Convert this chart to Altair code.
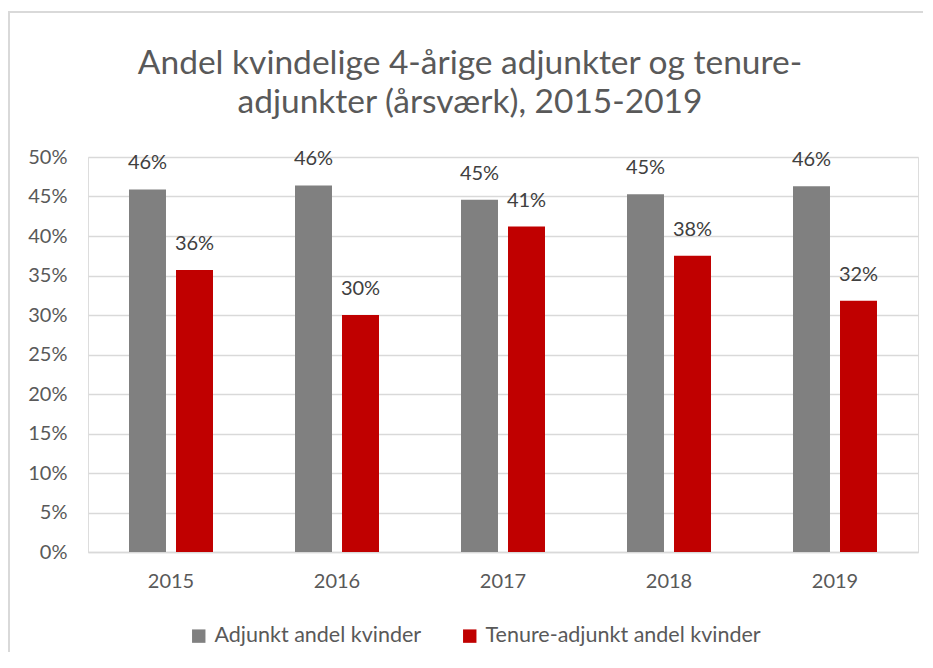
import altair as alt
import pandas as pd

years = ["2015", "2016", "2017", "2018", "2019"]
series = ["Adjunkt andel kvinder", "Tenure-adjunkt andel kvinder"]
adjunkt = [0.459, 0.464, 0.446, 0.453, 0.463]
tenure = [0.357, 0.300, 0.412, 0.375, 0.318]
colors = ["#808080", "#C00000"]
title_lines = ["Andel kvindelige 4-årige adjunkter og tenure-", "adjunkter (årsværk), 2015-2019"]

rows = []
for i, y in enumerate(years):
    rows.append({"year": y, "series": series[0], "value": adjunkt[i]})
    rows.append({"year": y, "series": series[1], "value": tenure[i]})
df = pd.DataFrame(rows)

FONT = "Lato"
TXT = "#595959"

x = alt.X("year:N", title=None,
          scale=alt.Scale(paddingInner=0.494, paddingOuter=0.247),
          axis=alt.Axis(labelAngle=0, labelFontSize=20, labelColor=TXT, labelFont=FONT,
                        ticks=False, domainColor="#d9d9d9", domainWidth=1.5, labelPadding=19))
xo = alt.XOffset("series:N", sort=series,
                 scale=alt.Scale(paddingInner=0.213, paddingOuter=0))
y = alt.Y("value:Q", title=None,
          scale=alt.Scale(domain=[0, 0.5], nice=False),
          axis=alt.Axis(format=".0%", values=[i / 100 for i in range(0, 51, 5)],
                        labelFontSize=20, labelColor=TXT, labelFont=FONT, ticks=False,
                        domain=False, gridColor="#d9d9d9", gridWidth=1.5, labelPadding=21))
color = alt.Color("series:N", sort=series, title=None,
                  scale=alt.Scale(domain=series, range=colors),
                  legend=alt.Legend(orient="none", direction="horizontal", legendX=100, legendY=468,
                                    symbolType="square", symbolSize=180, symbolStrokeWidth=0,
                                    labelFontSize=21.5, labelColor=TXT, labelFont=FONT, labelLimit=500,
                                    columnPadding=37, labelOffset=5))

bars = alt.Chart(df).mark_bar().encode(x=x, xOffset=xo, y=y, color=color)
labels = alt.Chart(df).mark_text(dy=-16, baseline="bottom", fontSize=20, font=FONT, color="#404040").encode(
    x=x, xOffset=xo, y=y, text=alt.Text("value:Q", format=".0%"))

title_df = pd.DataFrame({"line": title_lines})
title_layers = []
for i, ypos in enumerate([-83, -44]):
    title_layers.append(
        alt.Chart(title_df).transform_filter(alt.datum.line == title_lines[i]).mark_text(
            fontSize=33.5, font=FONT, color=TXT, baseline="alphabetic", align="center", clip=False
        ).encode(text="line:N", x=alt.value(382), y=alt.value(ypos))
    )

one = pd.DataFrame({"a": [0]})
border_top = alt.Chart(one).mark_rule(stroke="#d9d9d9", strokeWidth=2, clip=False).encode(
    x=alt.value(-80), x2=alt.value(860), y=alt.value(-145))
border_left = alt.Chart(one).mark_rule(stroke="#d9d9d9", strokeWidth=2, clip=False).encode(
    x=alt.value(-79), y=alt.value(-146), y2=alt.value(520))

chart = alt.layer(border_top, border_left, bars, labels, *title_layers).properties(
    width=830, height=395,
    autosize=alt.AutoSizeParams(type="none"),
    padding={"left": 80, "top": 149, "right": 5, "bottom": 100},
).configure_view(stroke=None).configure(background="white")

chart.save("out.html", embed_options={"renderer": "svg", "actions": False})
